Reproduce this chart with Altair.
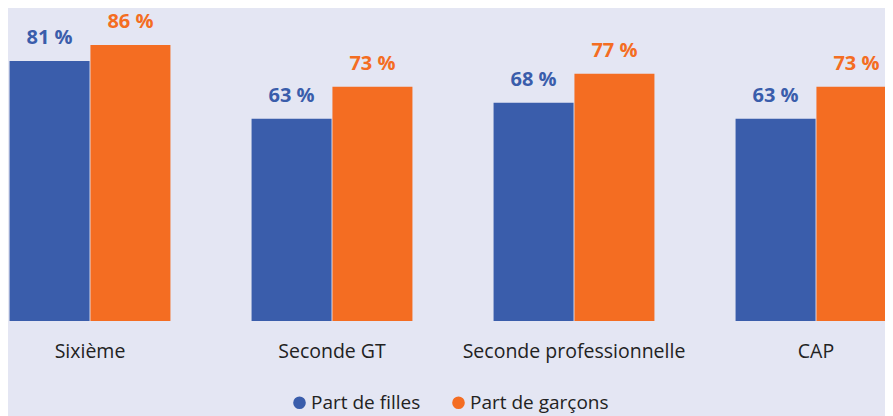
import altair as alt
import pandas as pd

categories = ["Sixième", "Seconde GT", "Seconde professionnelle", "CAP"]
series = ["Part de filles", "Part de garçons"]
filles = [81, 63, 68, 63]
garcons = [86, 73, 77, 73]
colors = ["#3a5dab", "#f46d22"]

rows = []
for c, f, g in zip(categories, filles, garcons):
    rows.append({"cat": c, "serie": series[0], "val": f, "label": f"{f} %"})
    rows.append({"cat": c, "serie": series[1], "val": g, "label": f"{g} %"})
df = pd.DataFrame(rows)

FONT = "Open Sans"

x = alt.X("cat:N", sort=categories, title=None,
          scale=alt.Scale(range=[-39, 929], paddingInner=0.335, paddingOuter=0.1675),
          axis=alt.Axis(labelAngle=0, domain=False, ticks=False, labelPadding=21,
                        labelFontSize=19.5, labelColor="#222222", labelFont=FONT,
                        labelLimit=400))
xo = alt.XOffset("serie:N", sort=series, scale=alt.Scale(paddingInner=0.01))
y = alt.Y("val:Q", scale=alt.Scale(domain=[0, 97.5]), axis=None)
color = alt.Color("serie:N", sort=series,
                  scale=alt.Scale(domain=series, range=colors),
                  legend=alt.Legend(title=None, orient="none", legendX=282, legendY=385,
                                    direction="horizontal", symbolType="circle",
                                    symbolSize=160, symbolOpacity=1, labelFontSize=19,
                                    labelFont=FONT, labelColor="#222222",
                                    columnPadding=28, labelOffset=2, labelLimit=300))

base = alt.Chart(df).encode(x=x, xOffset=xo, y=y)
bars = base.mark_bar(size=80).encode(color=color)
labels = base.mark_text(fontSize=20, fontWeight="bold", font=FONT, dy=-17,
                        baseline="alphabetic").encode(
    text="label:N",
    color=alt.Color("serie:N", sort=series,
                    scale=alt.Scale(domain=series, range=colors), legend=None))

chart = (bars + labels).properties(
    width=877, height=313, background="#e4e6f3",
    padding={"left": 0, "top": 0, "right": 0, "bottom": 95},
    autosize=alt.AutoSizeParams(type="none")
).configure_view(stroke=None)

chart.save("out.html", embed_options={"renderer": "svg", "actions": False})
